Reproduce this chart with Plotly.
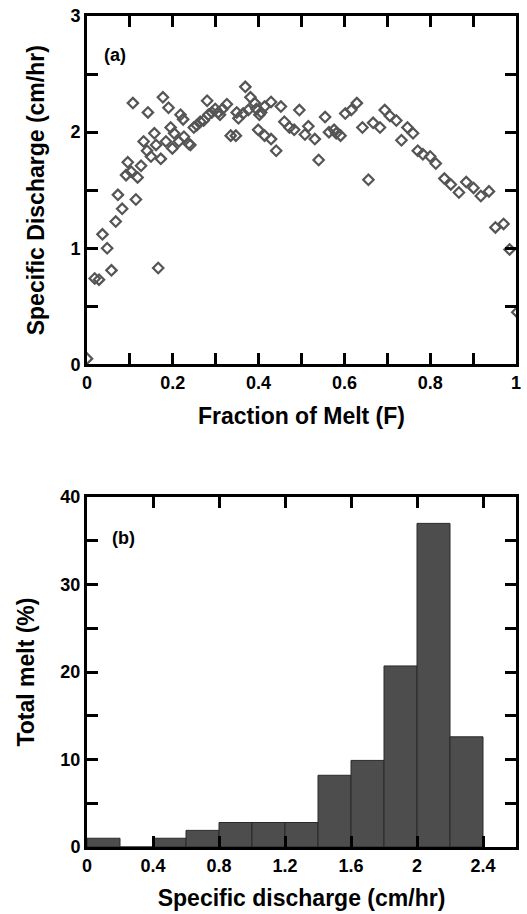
import plotly.graph_objects as go

# ---- Panel (a): specific discharge vs fraction of melt ----
frac_melt = [
    0.000, 0.018, 0.028, 0.036, 0.047, 0.057, 0.067, 0.072, 0.082, 0.114,
    0.091, 0.095, 0.103, 0.118, 0.126, 0.107, 0.132, 0.140, 0.149, 0.172,
    0.142, 0.157, 0.161, 0.184, 0.166, 0.177, 0.190, 0.195, 0.203, 0.199,
    0.214, 0.226, 0.241, 0.218, 0.224, 0.237, 0.249, 0.256, 0.264, 0.272,
    0.283, 0.291, 0.299, 0.306, 0.316, 0.310, 0.280, 0.326, 0.335, 0.347,
    0.349, 0.353, 0.364, 0.376, 0.395, 0.402, 0.406, 0.414, 0.369, 0.381,
    0.391, 0.429, 0.452, 0.399, 0.414, 0.429, 0.441, 0.460, 0.472, 0.483,
    0.495, 0.508, 0.516, 0.531, 0.540, 0.555, 0.564, 0.576, 0.581, 0.591,
    0.602, 0.616, 0.629, 0.642, 0.656, 0.667, 0.683, 0.694, 0.706, 0.721,
    0.733, 0.747, 0.760, 0.771, 0.783, 0.800, 0.813, 0.833, 0.848, 0.867,
    0.884, 0.901, 0.918, 0.937, 0.952, 0.971, 0.985, 1.003,
]
spec_discharge = [
    0.05, 0.74, 0.73, 1.12, 1.00, 0.81, 1.23, 1.46, 1.34, 1.42,
    1.63, 1.74, 1.66, 1.61, 1.71, 2.25, 1.92, 1.84, 1.79, 1.77,
    2.17, 1.99, 1.89, 1.92, 0.83, 2.30, 2.21, 2.04, 1.99, 1.86,
    1.92, 1.96, 1.89, 2.15, 2.11, 1.90, 2.04, 2.06, 2.09, 2.10,
    2.15, 2.17, 2.20, 2.17, 2.20, 2.15, 2.27, 2.24, 1.97, 1.97,
    2.17, 2.12, 2.16, 2.19, 2.20, 2.15, 2.17, 2.22, 2.39, 2.30,
    2.25, 2.26, 2.22, 2.02, 1.97, 1.94, 1.84, 2.09, 2.04, 2.02,
    2.19, 1.98, 2.05, 1.94, 1.76, 2.13, 2.00, 2.02, 1.99, 1.97,
    2.16, 2.19, 2.25, 2.04, 1.59, 2.08, 2.04, 2.19, 2.14, 2.10,
    1.93, 2.04, 1.99, 1.84, 1.81, 1.79, 1.73, 1.60, 1.55, 1.48,
    1.57, 1.52, 1.45, 1.49, 1.18, 1.21, 0.99, 0.45,
]

# ---- Panel (b): histogram of total melt by specific discharge ----
bin_left = [0.0, 0.2, 0.4, 0.6, 0.8, 1.0, 1.2, 1.4, 1.6, 1.8, 2.0, 2.2]
bin_width = 0.2
total_melt = [1.0, 0.0, 1.0, 1.9, 2.8, 2.8, 2.8, 8.2, 9.9, 20.7, 37.0, 12.6]

# tick positions and labels (blank labels = minor ticks)
xa_tickvals = [0, 0.1, 0.2, 0.3, 0.4, 0.5, 0.6, 0.7, 0.8, 0.9, 1.0]
xa_ticktext = ["0", "", "0.2", "", "0.4", "", "0.6", "", "0.8", "", "1"]
ya_tickvals = [0, 0.5, 1, 1.5, 2, 2.5, 3]
ya_ticktext = ["0", "", "1", "", "2", "", "3"]
xb_tickvals = [0, 0.4, 0.8, 1.2, 1.6, 2.0, 2.4]
xb_ticktext = ["0", "0.4", "0.8", "1.2", "1.6", "2", "2.4"]
yb_tickvals = [0, 5, 10, 15, 20, 25, 30, 35, 40]
yb_ticktext = ["0", "", "10", "", "20", "", "30", "", "40"]


def bold(labels):
    return ["<b>%s</b>" % t if t else "" for t in labels]


FONT = "Liberation Sans"
TICKF = dict(family=FONT, size=18, color="black")
TITLEF = dict(family=FONT, size=23, color="black")

fig = go.Figure()

fig.add_trace(go.Scatter(
    x=frac_melt, y=spec_discharge, mode="markers",
    marker=dict(symbol="diamond-open", size=8, color="#555555",
                line=dict(width=2.2, color="#555555")),
    xaxis="x", yaxis="y", showlegend=False, hoverinfo="skip",
))

fig.add_trace(go.Bar(
    x=[b + bin_width / 2 for b in bin_left], y=total_melt, width=bin_width,
    marker=dict(color="#4d4d4d", line=dict(color="#2a2a2a", width=1)),
    xaxis="x2", yaxis="y2", showlegend=False, hoverinfo="skip",
))

LW = 3
common = dict(showline=True, linewidth=LW, linecolor="black",
              ticks="inside", ticklen=11, tickwidth=LW, tickcolor="black",
              mirror="ticks", tickfont=TICKF)

fig.update_layout(
    width=527, height=914,
    margin=dict(l=87, r=6, t=15, b=66),
    paper_bgcolor="white", plot_bgcolor="white",
    font=dict(family=FONT, color="black"),
    xaxis=dict(domain=[0, 1], anchor="y", range=[0, 1],
               tickvals=xa_tickvals, ticktext=bold(xa_ticktext),
               showgrid=False, zeroline=False,
               title=dict(text="<b>Fraction of Melt (F)</b>", font=TITLEF,
                          standoff=16),
               **common),
    yaxis=dict(domain=[0.5807, 1.0], anchor="x", range=[0, 3],
               tickvals=ya_tickvals, ticktext=bold(ya_ticktext),
               showgrid=False, zeroline=False,
               title=dict(text="<b>Specific Discharge (cm/hr)</b>", font=TITLEF,
                          standoff=20),
               **common),
    xaxis2=dict(domain=[0, 1], anchor="y2", range=[0, 2.6],
                tickvals=xb_tickvals, ticktext=bold(xb_ticktext),
                showgrid=False, zeroline=False,
                title=dict(text="<b>Specific discharge (cm/hr)</b>", font=TITLEF,
                           standoff=16),
                **common),
    yaxis2=dict(domain=[0, 0.421], anchor="x2", range=[0, 40],
                tickvals=yb_tickvals, ticktext=bold(yb_ticktext),
                showgrid=False, zeroline=False,
                title=dict(text="<b>Total melt (%)</b>", font=TITLEF,
                           standoff=20),
                **common),
    annotations=[
        dict(text="<b>(a)</b>", x=0.034, y=2.66, xref="x domain", yref="y",
             xanchor="left", yanchor="middle", showarrow=False, font=TICKF),
        dict(text="<b>(b)</b>", x=0.053, y=35.3, xref="x2 domain", yref="y2",
             xanchor="left", yanchor="middle", showarrow=False, font=TICKF),
    ],
)

fig.write_html(
    "out.html",
    config={"displayModeBar": False},
    post_script="document.body.style.margin='0px';"
                "document.body.style.overflow='hidden';",
)
